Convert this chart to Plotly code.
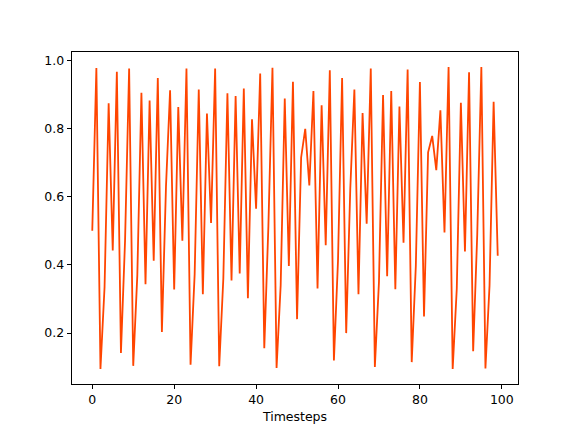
import plotly.graph_objects as go

timesteps = list(range(100))
values = [
    0.500, 0.977, 0.095, 0.335, 0.874, 0.442, 0.966, 0.142, 0.470, 0.976,
    0.104, 0.370, 0.905, 0.343, 0.882, 0.412, 0.948, 0.203, 0.630, 0.912,
    0.328, 0.863, 0.471, 0.976, 0.107, 0.373, 0.914, 0.314, 0.844, 0.523,
    0.976, 0.103, 0.360, 0.903, 0.354, 0.895, 0.375, 0.917, 0.302, 0.827,
    0.565, 0.961, 0.156, 0.513, 0.978, 0.098, 0.340, 0.888, 0.397, 0.937,
    0.241, 0.715, 0.799, 0.633, 0.910, 0.331, 0.868, 0.458, 0.971, 0.120,
    0.412, 0.948, 0.200, 0.624, 0.914, 0.314, 0.845, 0.521, 0.976, 0.101,
    0.350, 0.898, 0.367, 0.910, 0.329, 0.864, 0.465, 0.973, 0.115, 0.397,
    0.936, 0.249, 0.730, 0.778, 0.678, 0.853, 0.495, 0.980, 0.095, 0.330,
    0.875, 0.439, 0.965, 0.147, 0.490, 0.980, 0.096, 0.340, 0.878, 0.427,
]
x_ticks = [0, 20, 40, 60, 80, 100]
y_ticks = [0.2, 0.4, 0.6, 0.8, 1.0]

fig = go.Figure()
fig.add_trace(go.Scatter(x=timesteps, y=values, mode="lines",
                         line=dict(color="#FF4500", width=1.8), showlegend=False))

axis_common = dict(showgrid=False, zeroline=False, showline=True, linecolor="black",
                   linewidth=1, mirror=True, ticks="outside", ticklen=4.4,
                   tickwidth=1, tickcolor="black",
                   tickfont=dict(family="DejaVu Sans", size=12.5, color="black"))

fig.update_layout(
    width=568, height=424,
    margin=dict(l=64, r=58, t=44, b=48),
    paper_bgcolor="white", plot_bgcolor="white",
    xaxis=dict(range=[-4.95, 103.95], tickvals=x_ticks,
               title=dict(text="Timesteps", standoff=5,
                          font=dict(family="DejaVu Sans", size=12.5, color="black")),
               **axis_common),
    yaxis=dict(range=[0.0508, 1.0242], tickvals=y_ticks, tickformat=".1f",
               **axis_common),
)

fig.write_html("out.html")
